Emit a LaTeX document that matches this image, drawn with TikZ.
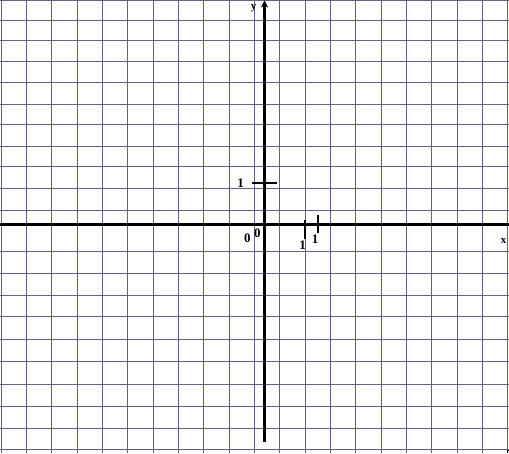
\documentclass[tikz,border=0pt]{standalone}
\usepackage{fontspec}
\setmainfont{Liberation Serif}
\usetikzlibrary{arrows.meta}
\definecolor{gridc}{RGB}{100,96,140}
\tikzset{
  gridline/.style={draw=gridc,line width=0.85pt},
  axisline/.style={draw=black,line width=3pt},
  tickline/.style={draw=black,line width=1.8pt},
  lab/.style={font=\fontsize{13}{13}\selectfont\bfseries,inner sep=0pt},
  smalllab/.style={font=\fontsize{11}{11}\selectfont\bfseries,inner sep=0pt}
}
\begin{document}
\begin{tikzpicture}[x=1pt,y=-1pt]
\useasboundingbox (0,0) rectangle (509,453);
\fill[white] (0,0) rectangle (509,453);
% vertical grid lines
\foreach \k in {0,...,20}{
  \draw[gridline] ({1+25.33*\k},0) -- ({1+25.33*\k},453);
}
% horizontal grid lines
\foreach \yy in {0.7,20.7,40.7,61.3,82.7,104,124.7,146,166,188,210,251,273,295,316.7,339.3,361.3,384.7,406,428,449.3}{
  \draw[gridline] (0,\yy) -- (509,\yy);
}
% axes
\coordinate (xl) at (0,224);
\coordinate (xr) at (509,224);
\coordinate (yb) at (264.5,441.5);
\coordinate (yt) at (264.5,0.5);
\draw[axisline] (xl) -- (xr);
\draw[axisline,-{Stealth[length=7pt,width=7pt]}] (yb) -- (yt);
% ticks
\coordinate (t1a) at (252,182.7);
\coordinate (t1b) at (276.5,182.7);
\draw[tickline] (t1a) -- (t1b);
\coordinate (t2a) at (305.3,220);
\coordinate (t2b) at (305.3,239);
\draw[tickline] (t2a) -- (t2b);
\coordinate (t3a) at (317.7,215);
\coordinate (t3b) at (317.7,233);
\draw[tickline] (t3a) -- (t3b);
% labels
\node[lab] (ly1) at (240.7,183.5) {1};
\node[lab] (lx1) at (302.7,245) {1};
\node[lab] (lx2) at (315,239.5) {1};
\node[lab] (o1) at (247.3,238.5) {0};
\node[lab] (o2) at (257.3,233) {0};
\node[smalllab] (ly) at (253.5,8.5) {y};
\node[smalllab] (lx) at (503.5,241) {x};
% corner mark
\coordinate (c1) at (507,453);
\coordinate (c2) at (507,450.5);
\coordinate (c3) at (509,450.5);
\draw[black,line width=0.8pt] (c1) -- (c2) -- (c3);
\end{tikzpicture}
\end{document}
